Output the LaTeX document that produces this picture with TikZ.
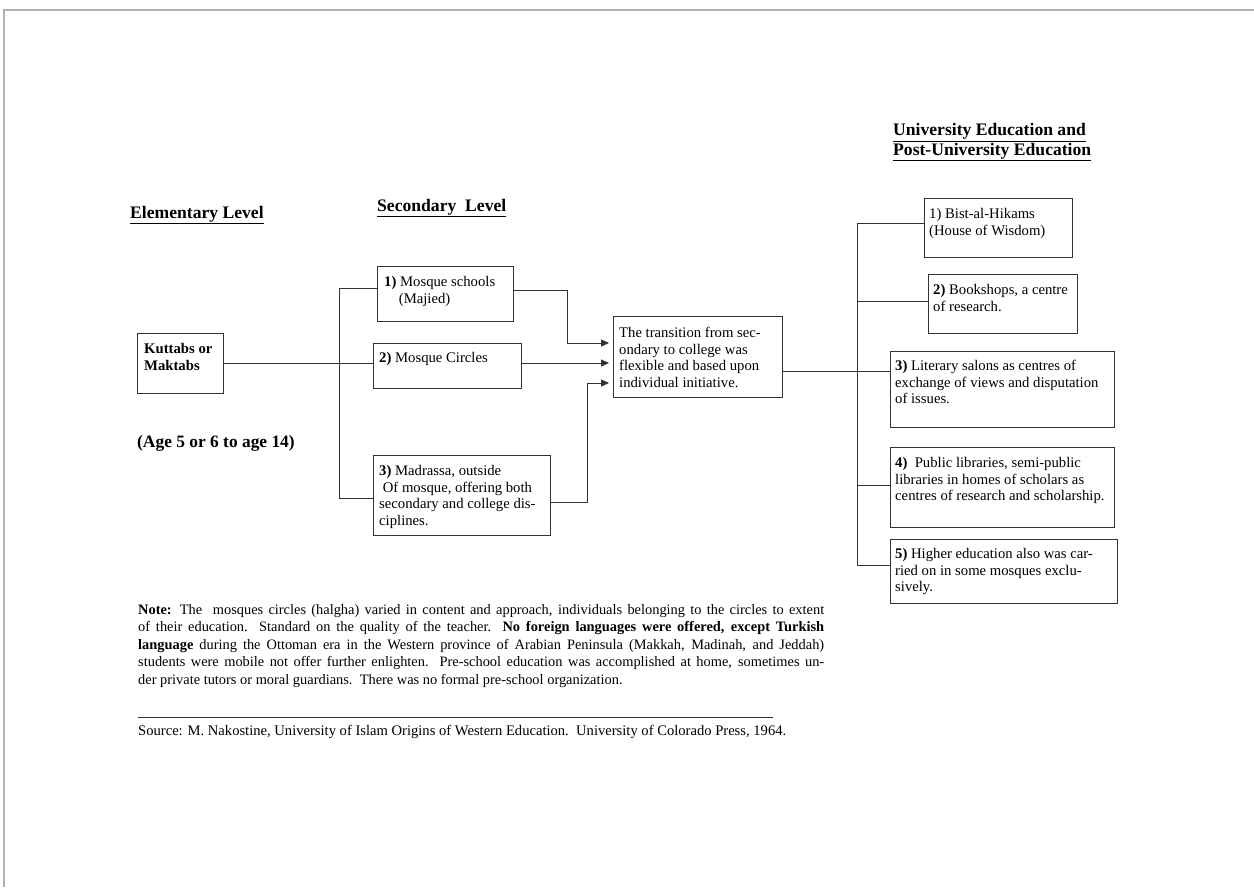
\documentclass[tikz,border=0pt]{standalone}
\usepackage{fontspec}
\setmainfont{Liberation Serif}
\usetikzlibrary{arrows.meta}
\begin{document}
\begin{tikzpicture}[x=1pt,y=-1pt,
  box/.style={draw=black!80, line width=1pt, anchor=north west, inner sep=0pt},
  txt/.style={anchor=north west, inner sep=0pt, align=left, font=\fontsize{14.7}{16.6}\selectfont},
  head/.style={anchor=base west, inner sep=0pt, align=left, font=\fontsize{17.6}{20}\selectfont\bfseries},
  conn/.style={draw=black!80, line width=1pt},
  arr/.style={conn, -{Triangle[length=8pt,width=7pt]}, shorten >=4pt}
]
\useasboundingbox (0,0) rectangle (1254,887);
\fill[white] (0,0) rectangle (1254,887);
\draw[gray!60, line width=1.5pt] (4,887) -- (4,10) -- (1254,10);

% headings
\node[head] (hElem) at (130,218) {\underline{Elementary Level}};
\node[head] (hSec) at (377,211) {\underline{Secondary\ \ Level}};
\node[head] (hUni) at (893,155) {\underline{University Education and}\\[-0.5pt]\underline{Post-University Education}};

% boxes
\node[box, minimum width=86pt, minimum height=60pt] (k) at (137,333) {};
\node[box, minimum width=136pt, minimum height=55pt] (b1) at (377,266) {};
\node[box, minimum width=148pt, minimum height=45pt] (b2) at (373,343) {};
\node[box, minimum width=177pt, minimum height=80pt] (b3) at (373,455) {};
\node[box, minimum width=169pt, minimum height=81pt] (t) at (613,316) {};
\node[box, minimum width=148pt, minimum height=59pt] (r1) at (924,198) {};
\node[box, minimum width=149pt, minimum height=59pt] (r2) at (928,274) {};
\node[box, minimum width=224pt, minimum height=76pt] (r3) at (890,351) {};
\node[box, minimum width=224pt, minimum height=80pt] (r4) at (890,447) {};
\node[box, minimum width=227pt, minimum height=64pt] (r5) at (890,539) {};

% box texts
\node[txt] (kT) at ([xshift=7pt,yshift=-10pt]k.north west) {\textbf{Kuttabs or}\\\textbf{Maktabs}};
\node[txt] (b1T) at ([xshift=7pt,yshift=-10pt]b1.north west) {\textbf{1)} Mosque schools\\\hspace*{1em}(Majied)};
\node[txt] (b2T) at ([xshift=6pt,yshift=-9pt]b2.north west) {\textbf{2)} Mosque Circles};
\node[txt] (b3T) at ([xshift=6pt,yshift=-10pt]b3.north west) {\textbf{3)} Madrassa, outside\\\ Of mosque, offering both\\secondary and college dis-\\ciplines.};
\node[txt] (tT) at ([xshift=6pt,yshift=-11pt]t.north west) {The transition from sec-\\ondary to college was\\flexible and based upon\\individual initiative.};
\node[txt] (r1T) at ([xshift=5pt,yshift=-10pt]r1.north west) {1) Bist-al-Hikams\\(House of Wisdom)};
\node[txt] (r2T) at ([xshift=5pt,yshift=-10pt]r2.north west) {\textbf{2)} Bookshops, a centre\\of research.};
\node[txt] (r3T) at ([xshift=5pt,yshift=-9pt]r3.north west) {\textbf{3)} Literary salons as centres of\\exchange of views and disputation\\of issues.};
\node[txt] (r4T) at ([xshift=5pt,yshift=-10pt]r4.north west) {\textbf{4)}\ \ Public libraries, semi-public\\libraries in homes of scholars as\\centres of research and scholarship.};
\node[txt] (r5T) at ([xshift=5pt,yshift=-9pt]r5.north west) {\textbf{5)} Higher education also was car-\\ried on in some mosques exclu-\\sively.};

\node[head, font=\fontsize{17.4}{20}\selectfont\bfseries] (age) at (137,447) {(Age 5 or 6 to age 14)};

% connectors, left side
\coordinate (v1) at (339,288);
\coordinate (v3) at (339,498);
\draw[conn] (k.east |- 0,363) -- (b2.west |- 0,363);
\draw[conn] (b1.west |- v1) -- (v1) -- (v3) -- (b3.west |- v3);

\coordinate (j1) at (567,290);
\coordinate (j3) at (587,502);
\draw[arr] (b1.east |- j1) -- (j1) -- (j1 |- 0,343) -- (t.west |- 0,343);
\draw[arr] (b2.east |- 0,363) -- (t.west |- 0,363);
\draw[arr] (b3.east |- j3) -- (j3) -- (j3 |- 0,383) -- (t.west |- 0,383);

% right side
\coordinate (w1) at (857,223);
\coordinate (w5) at (857,565);
\draw[conn] (t.east |- 0,371) -- (r3.west |- 0,371);
\draw[conn] (r1.west |- w1) -- (w1) -- (w5) -- (r5.west |- w5);
\draw[conn] (w1 |- 0,301) -- (r2.west |- 0,301);
\draw[conn] (w1 |- 0,485) -- (r4.west |- 0,485);

% note
\node[anchor=north west, inner sep=0pt, text width=686pt, align=justify,
      font=\fontsize{14.4}{17.5}\selectfont] (note) at (138,604)
{\textbf{Note:} The\ \ mosques circles (halgha) varied in content and approach, individuals belonging to the circles to extent\linebreak
of their education. Standard on the quality of the teacher. \textbf{No foreign languages were offered, except Turkish}\linebreak
\textbf{language} during the Ottoman era in the Western province of Arabian Peninsula (Makkah, Madinah, and Jeddah)\linebreak
students were mobile not offer further enlighten.\ \ Pre-school education was accomplished at home, sometimes un-\linebreak
der private tutors or moral guardians.\ \ There was no formal pre-school organization.};

\coordinate (s1) at (138,717);
\coordinate (s2) at (773,717);
\draw[black!80, line width=0.8pt] (s1) -- (s2);
\node[anchor=base west, inner sep=0pt, font=\fontsize{14.6}{16}\selectfont] (src) at (138,735)
{Source: M. Nakostine, University of Islam Origins of Western Education.\ \ University of Colorado Press, 1964.};
\end{tikzpicture}
\end{document}
